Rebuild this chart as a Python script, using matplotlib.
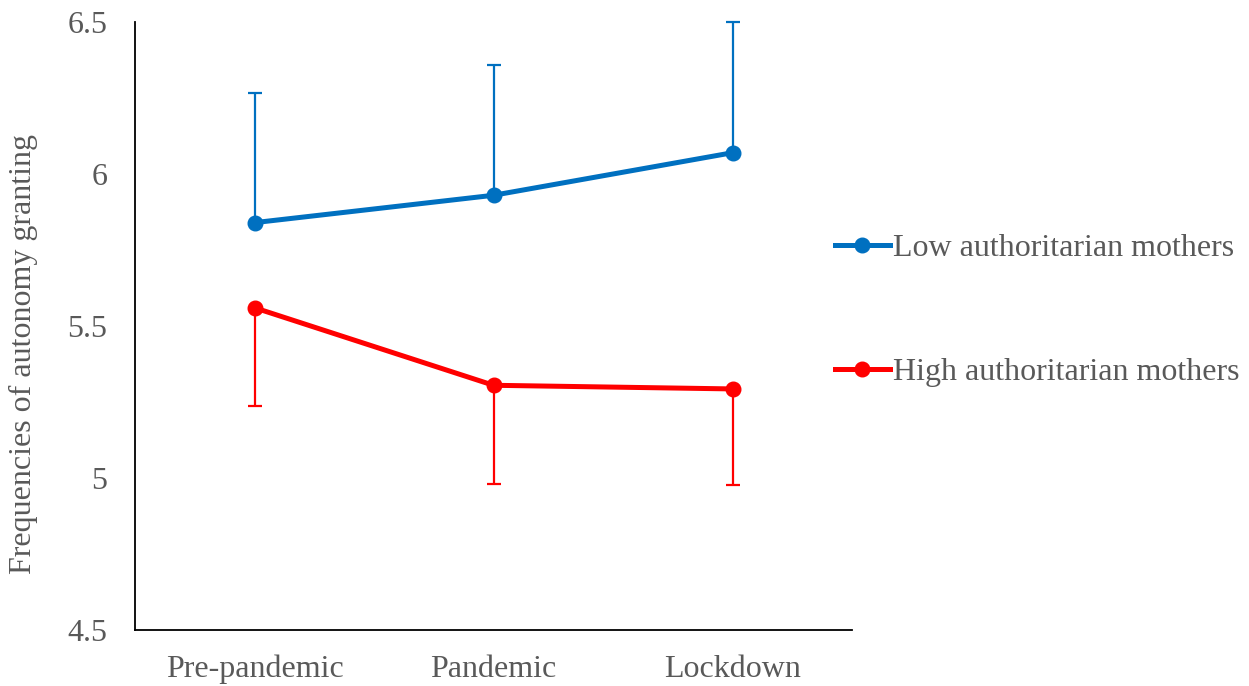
import matplotlib
matplotlib.use("Agg")
import matplotlib.pyplot as plt
import numpy as np

categories = ["Pre-pandemic", "Pandemic", "Lockdown"]
low_means = [5.84, 5.93, 6.07]
low_upper = [6.265, 6.36, 6.50]
high_means = [5.56, 5.305, 5.293]
high_lower = [5.237, 4.98, 4.977]
yticks = [4.5, 5, 5.5, 6, 6.5]
ytick_labels = ["4.5", "5", "5.5", "6", "6.5"]

blue = "#0070C0"
red = "#FF0000"
grey = "#595959"

plt.rcParams['font.family'] = ['Liberation Serif', 'DejaVu Serif']

fig = plt.figure(figsize=(12.49, 6.86), dpi=100)
ax = fig.add_axes([135/1249, 1-630/686, (852-135)/1249, (630-22)/686])

x = np.arange(len(categories))
low_err = [np.zeros(3), np.array(low_upper) - np.array(low_means)]
high_err = [np.array(high_means) - np.array(high_lower), np.zeros(3)]

ax.errorbar(x, low_means, yerr=low_err, fmt='none', ecolor=blue, elinewidth=1.6,
            capsize=5, capthick=1.6, zorder=2, clip_on=False)
ax.errorbar(x, high_means, yerr=high_err, fmt='none', ecolor=red, elinewidth=1.6,
            capsize=5, capthick=1.6, zorder=2, clip_on=False)
ax.plot(x, low_means, color=blue, lw=3.6, marker='o', ms=10.5, zorder=3,
        label="Low authoritarian mothers", clip_on=False)
ax.plot(x, high_means, color=red, lw=3.6, marker='o', ms=10.5, zorder=3,
        label="High authoritarian mothers", clip_on=False)

ax.set_xlim(-0.5, 2.5)
ax.set_ylim(4.5, 6.5)
ax.set_yticks(yticks)
ax.set_yticklabels(ytick_labels)
ax.set_xticks(x)
ax.set_xticklabels(categories)
ax.tick_params(axis='both', length=0, labelsize=23, labelcolor=grey)
ax.tick_params(axis='y', pad=20)
ax.tick_params(axis='x', pad=18)
for s in ['top', 'right']:
    ax.spines[s].set_visible(False)
for s in ['left', 'bottom']:
    ax.spines[s].set_linewidth(1.3)
    ax.spines[s].set_color('black')

ax.set_ylabel("Frequencies of autonomy granting", fontsize=23, color=grey)
ax.yaxis.set_label_coords(-0.135, 0.454)

leg = fig.legend(loc='upper left', bbox_to_anchor=(822/1249, 1-221/686),
                 frameon=False, fontsize=23, labelcolor=grey, handlelength=1.72,
                 handletextpad=0.1, labelspacing=2.97, borderaxespad=0)

fig.savefig("out.png", dpi=100)
